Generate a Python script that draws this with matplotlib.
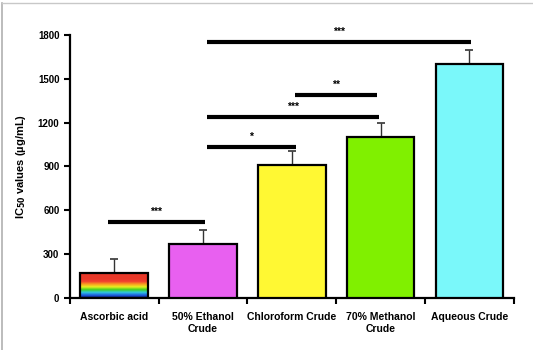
import matplotlib

matplotlib.use("Agg")
import matplotlib.pyplot as plt
import numpy as np
from matplotlib.colors import LinearSegmentedColormap
from matplotlib.lines import Line2D

plt.rcParams["font.family"] = ["Liberation Sans", "DejaVu Sans"]
plt.rcParams["font.weight"] = "bold"

categories = ["Ascorbic acid", "50% Ethanol\nCrude", "Chloroform Crude",
              "70% Methanol\nCrude", "Aqueous Crude"]
ic50 = [170, 370, 910, 1100, 1600]
sem = [95, 95, 95, 95, 100]
fills = [None, "#e860f0", "#fff833", "#80f000", "#7af8fa"]

# significance brackets: (x start, x end, height, label)
brackets = [
    (-0.07, 1.02, 520, "***"),
    (1.04, 2.05, 1030, "*"),
    (1.04, 2.98, 1240, "***"),
    (2.04, 2.96, 1390, "**"),
    (1.04, 4.02, 1750, "***"),
]

# rainbow used for the reference compound, bottom to top
rainbow = ["#102090", "#1c60e0", "#30c8e0", "#40d020", "#e8f020",
           "#f8a020", "#f04030", "#e83828", "#e83828", "#e83828"]

fig = plt.figure(figsize=(5.33, 3.5), dpi=100)
ax = fig.add_axes([0.131, 0.149, 0.833, 0.751])

width = 0.76
x = np.arange(len(categories))
for i, (v, e, c) in enumerate(zip(ic50, sem, fills)):
    left = x[i] - width / 2
    if c is None:
        cmap = LinearSegmentedColormap.from_list("rb", rainbow)
        grad = np.linspace(0, 1, 64).reshape(-1, 1)
        ax.imshow(grad, cmap=cmap, origin="lower", aspect="auto",
                  extent=(left, left + width, 0, v), interpolation="bilinear",
                  zorder=2)
        ax.bar(x[i], v, width=width, facecolor="none", edgecolor="black",
               linewidth=1.6, zorder=3)
    else:
        ax.bar(x[i], v, width=width, color=c, edgecolor="black",
               linewidth=1.6, zorder=3)
    ax.errorbar(x[i], v, yerr=[[0], [e]], color="#333333", elinewidth=1,
                capsize=3, capthick=1.2, zorder=2)

for x0, x1, h, lab in brackets:
    ax.plot([x0, x1], [h, h], color="black", linewidth=3, solid_capstyle="butt")
    ax.text((x0 + x1) / 2, h + 35, lab, ha="center", va="bottom",
            fontsize=7.5, fontweight="bold")

ax.set_xlim(-0.5, len(categories) - 0.5)
ax.set_ylim(0, 1800)
ax.set_yticks(np.arange(0, 1801, 300))
ax.set_xticks(np.arange(-0.5, len(categories), 1.0))
ax.set_xticklabels([])
ax.set_xticks(x, minor=True)
ax.set_xticklabels(categories, minor=True, fontsize=7.5, fontweight="bold",
                   linespacing=1.3)
ax.tick_params(axis="x", which="minor", length=0, pad=10)
ax.tick_params(axis="x", which="major", direction="out", length=4, width=1.5)
ax.tick_params(axis="y", direction="out", length=4, width=1.5, labelsize=7)
for lab in ax.get_yticklabels():
    lab.set_fontweight("bold")

ax.set_ylabel(r"IC$_{\mathbf{50}}$ values (µg/mL)", fontsize=8,
              fontweight="bold", labelpad=7)
for side in ("top", "right"):
    ax.spines[side].set_visible(False)
for side in ("left", "bottom"):
    ax.spines[side].set_linewidth(1.6)

# thin frame on the left and top edges of the figure
fig.add_artist(Line2D([0.004, 0.004], [0, 0.992], color="#b0b0b0",
                      linewidth=1.2, transform=fig.transFigure))
fig.add_artist(Line2D([0.004, 1], [0.992, 0.992], color="#c8c8c8",
                      linewidth=1.0, transform=fig.transFigure))

fig.savefig("out.png", dpi=100)
